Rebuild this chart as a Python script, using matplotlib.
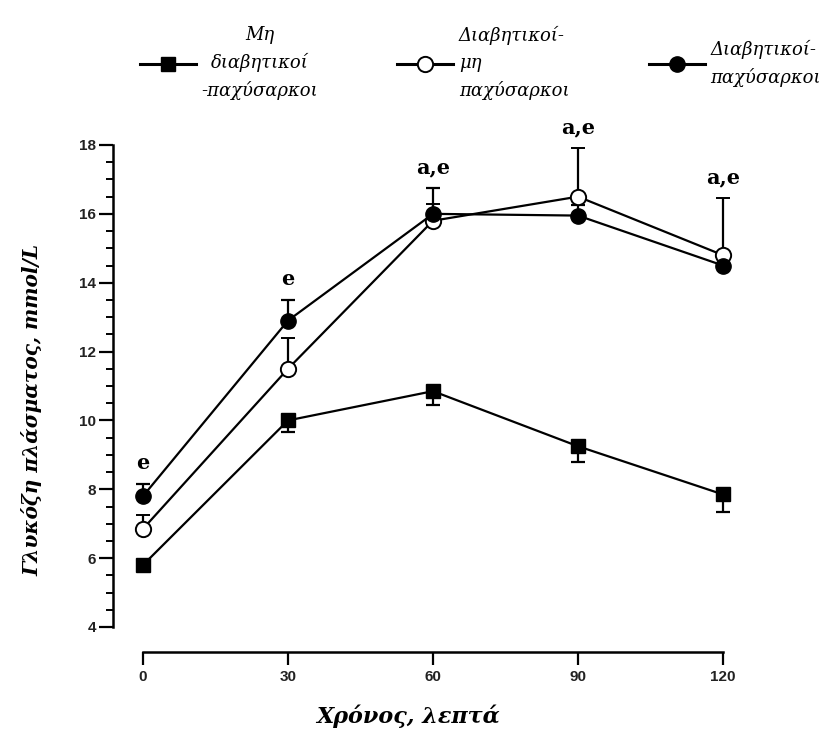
import matplotlib
matplotlib.use('Agg')
import matplotlib.pyplot as plt
from matplotlib.lines import Line2D
import numpy as np

# Χρόνος (λεπτά)
xronos = [0, 30, 60, 90, 120]

# μέσες τιμές γλυκόζης, mmol/L
mh_diabhtikoi = [5.8, 10.0, 10.85, 9.25, 7.85]
diab_mh_paxy = [6.85, 11.5, 15.8, 16.5, 14.8]
diab_paxy = [7.8, 12.9, 16.0, 15.95, 14.5]

# σφάλματα (μονόπλευρα)
err_mh_diab = [0.1, 0.35, 0.4, 0.45, 0.5]
err_diab_mh_paxy = [0.4, 0.9, 0.5, 1.4, 1.65]
err_diab_paxy = [0.35, 0.6, 0.75, 0.3, 0.3]

# σημειώσεις στατιστικής σημαντικότητας
shmeiwseis = ['e', 'e', 'a,e', 'a,e', 'a,e']

onomata = ['Μη\nδιαβητικοί\n-παχύσαρκοι',
           'Διαβητικοί-\nμη\nπαχύσαρκοι',
           'Διαβητικοί-\nπαχύσαρκοι']

fig = plt.figure(figsize=(8.33, 7.40), dpi=100)
ax = fig.add_axes([113 / 833, 113 / 740, 639 / 833, 482 / 740])

zeros = [0] * 5
kwargs = dict(color='black', linewidth=1.6, elinewidth=1.6, capsize=5, capthick=1.6)

ax.errorbar(xronos, mh_diabhtikoi, yerr=[err_mh_diab, zeros], marker='s',
            markersize=10, markerfacecolor='black', markeredgecolor='black', **kwargs)
ax.errorbar(xronos, diab_mh_paxy, yerr=[zeros, err_diab_mh_paxy], marker='o',
            markersize=11, markerfacecolor='white', markeredgecolor='black',
            markeredgewidth=1.4, **kwargs)
ax.errorbar(xronos, diab_paxy, yerr=[zeros, err_diab_paxy], marker='o',
            markersize=11, markerfacecolor='black', markeredgecolor='black', **kwargs)

# γράμματα πάνω από τις μπάρες σφάλματος
for i, x in enumerate(xronos):
    top = max(diab_mh_paxy[i] + err_diab_mh_paxy[i], diab_paxy[i] + err_diab_paxy[i])
    ax.annotate(shmeiwseis[i], (x, top), xytext=(0, 15), textcoords='offset points',
                ha='center', va='center', fontsize=15, fontweight='bold',
                family='DejaVu Serif', annotation_clip=False)

ax.set_xlim(-6.2, 126)
ax.set_ylim(4, 18)

for s in ['top', 'right']:
    ax.spines[s].set_visible(False)
ax.spines['left'].set_linewidth(1.8)
ax.spines['bottom'].set_linewidth(1.8)
ax.spines['bottom'].set_position(('outward', 18))
ax.spines['bottom'].set_bounds(0, 120)

ax.set_xticks(xronos)
ax.set_yticks(np.arange(4, 19, 2))
ax.set_yticks(np.arange(4, 18.01, 0.5), minor=True)
ax.tick_params(axis='y', which='major', direction='out', length=10, width=1.6, pad=2)
ax.tick_params(axis='y', which='minor', direction='out', length=5, width=1.4)
ax.tick_params(axis='x', which='major', direction='out', length=9, width=1.6, pad=4)
for lab in ax.get_xticklabels() + ax.get_yticklabels():
    lab.set_family('Liberation Sans')
    lab.set_fontweight('bold')
    lab.set_fontsize(11)
    lab.set_color('#222222')

ax.set_ylabel('Γλυκόζη πλάσματος, mmol/L', fontsize=14.5, fontweight='bold',
              fontstyle='italic', family='DejaVu Serif')
ax.yaxis.set_label_coords((42 - 113) / 639, (627 - 410) / 482)
ax.set_xlabel('Χρόνος, λεπτά', fontsize=16, fontweight='bold',
              fontstyle='italic', family='DejaVu Serif')
ax.xaxis.set_label_coords((408 - 113) / 639, (627 - 705) / 482)

# υπόμνημα
handles = [
    Line2D([], [], color='black', linewidth=2.2, marker='s', markersize=10,
           markerfacecolor='black'),
    Line2D([], [], color='black', linewidth=2.2, marker='o', markersize=11,
           markerfacecolor='white', markeredgewidth=1.4),
    Line2D([], [], color='black', linewidth=2.2, marker='o', markersize=11,
           markerfacecolor='black'),
]
leg = fig.legend(handles, onomata, loc='upper left', bbox_to_anchor=(140 / 833, 1 - 26 / 740),
                 ncol=3, frameon=False, handlelength=3.1, handletextpad=0.3,
                 columnspacing=4.4, borderpad=0, borderaxespad=0,
                 prop={'family': 'DejaVu Serif', 'style': 'italic', 'size': 13})
for t in leg.get_texts():
    t.set_linespacing(1.6)
leg.get_texts()[0].set_multialignment('center')

fig.savefig('out.png', dpi=100)
